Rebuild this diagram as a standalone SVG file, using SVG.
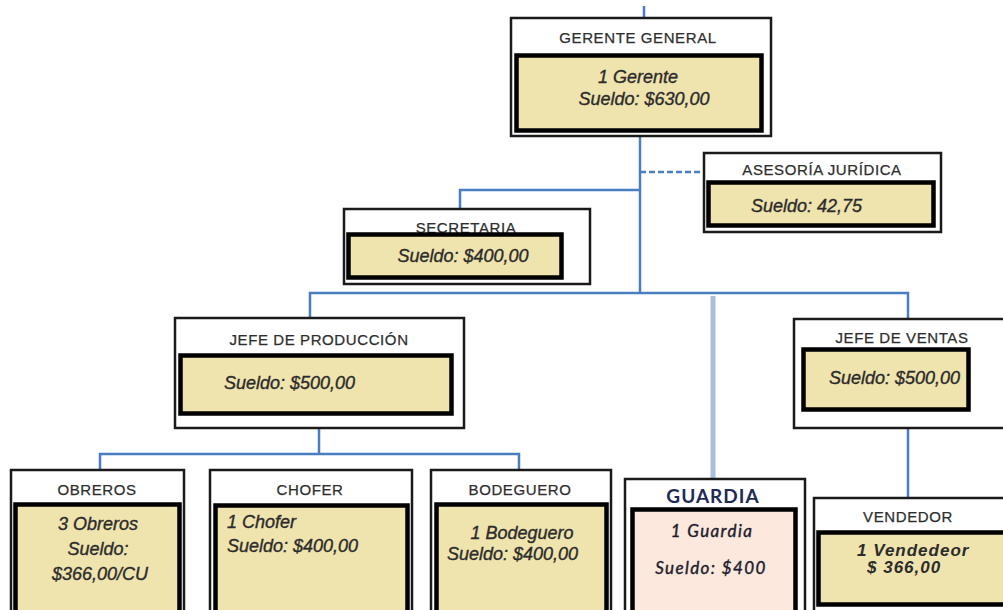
<svg xmlns="http://www.w3.org/2000/svg" width="1003" height="610" viewBox="0 0 1003 610">
  <style>
    .outer { fill: #ffffff; stroke: #1a1a1a; stroke-width: 2.5; }
    .inner { fill: #efe3ae; stroke: #000000; stroke-width: 4.5; }
    .inner-peach { fill: #fce8dc; stroke: #000000; stroke-width: 4.5; }
    .title { font-family: "Liberation Sans", Arial, sans-serif; font-size: 15px; fill: #2e2e2e; letter-spacing: 0.6px; text-anchor: middle; stroke: #2e2e2e; stroke-width: 0.25; }
    .body { font-family: "Liberation Sans", Arial, sans-serif; font-size: 18px; font-style: italic; fill: #2b2b2b; stroke: #2b2b2b; stroke-width: 0.35; }
    .mid { text-anchor: middle; }
    .g-title { font-family: Lato, "Open Sans", sans-serif; font-size: 19px; font-weight: bold; fill: #1f2a55; letter-spacing: 1px; text-anchor: middle; }
    .g-body { font-family: Lato, "Open Sans", sans-serif; font-size: 17px; font-style: italic; fill: #1c1c2e; stroke: #1c1c2e; stroke-width: 0.4; letter-spacing: 1.4px; text-anchor: middle; }
    .vend { font-size: 17px; font-weight: bold; letter-spacing: 1px; stroke-width: 0; }
    .link { fill: none; stroke: #4a7ebf; stroke-width: 2.5; }
    .dash { fill: none; stroke: #4a7ebf; stroke-width: 2.5; stroke-dasharray: 6 3; }
    .link-soft { fill: none; stroke: #a9c0dc; stroke-width: 5; }
  </style>

  <!-- connectors -->
  <g id="connectors">
    <line class="link" x1="644" y1="6" x2="644" y2="17"/>
    <line class="link" x1="640" y1="137" x2="640" y2="293"/>
    <polyline class="link" points="640,190 460,190 460,208"/>
    <line class="dash" x1="640" y1="172" x2="703" y2="172"/>
    <polyline class="link" points="310,317 310,293 908,293 908,318"/>
    <line class="link-soft" x1="713" y1="296" x2="713" y2="478"/>
    <line class="link" x1="319" y1="429" x2="319" y2="454"/>
    <polyline class="link" points="100,469 100,454 519,454 519,469"/>
    <line class="link" x1="908" y1="429" x2="908" y2="497"/>
  </g>

  <!-- Gerente general -->
  <g id="gerente-general">
    <rect class="outer" x="511" y="18" width="260" height="118"/>
    <text class="title" x="638" y="43">GERENTE GENERAL</text>
    <rect class="inner" x="516.5" y="55.5" width="245" height="75"/>
    <text class="body mid" x="638" y="83">1 Gerente</text>
    <text class="body mid" x="644" y="105">Sueldo: $630,00</text>
  </g>

  <!-- Secretaria -->
  <g id="secretaria">
    <rect class="outer" x="344" y="209" width="246" height="75"/>
    <text class="title" x="466" y="233">SECRETARIA</text>
    <rect class="inner" x="348.5" y="234.5" width="213" height="43"/>
    <text class="body mid" x="463" y="262">Sueldo: $400,00</text>
  </g>

  <!-- Asesoria juridica -->
  <g id="asesoria-juridica">
    <rect class="outer" x="704" y="153" width="237" height="79"/>
    <text class="title" x="822" y="175">ASESORÍA JURÍDICA</text>
    <rect class="inner" x="708.5" y="182.5" width="225" height="43"/>
    <text class="body" x="751" y="212">Sueldo: 42,75</text>
  </g>

  <!-- Jefe de produccion -->
  <g id="jefe-produccion">
    <rect class="outer" x="175" y="318" width="289" height="110"/>
    <text class="title" x="319" y="345">JEFE DE PRODUCCIÓN</text>
    <rect class="inner" x="180.5" y="355.5" width="271" height="58"/>
    <text class="body" x="224" y="389">Sueldo: $500,00</text>
  </g>

  <!-- Jefe de ventas -->
  <g id="jefe-ventas">
    <rect class="outer" x="794" y="319" width="215" height="109"/>
    <text class="title" x="902" y="343">JEFE DE VENTAS</text>
    <rect class="inner" x="803.5" y="349.5" width="165" height="60"/>
    <text class="body" x="829" y="384">Sueldo: $500,00</text>
  </g>

  <!-- Obreros -->
  <g id="obreros">
    <rect class="outer" x="11" y="470" width="173" height="145"/>
    <text class="title" x="97" y="495">OBREROS</text>
    <rect class="inner" x="15.5" y="504.5" width="164" height="110"/>
    <text class="body mid" x="98" y="530">3 Obreros</text>
    <text class="body mid" x="98" y="555">Sueldo:</text>
    <text class="body mid" x="100" y="580">$366,00/CU</text>
  </g>

  <!-- Chofer -->
  <g id="chofer">
    <rect class="outer" x="210" y="470" width="202" height="145"/>
    <text class="title" x="310" y="495">CHOFER</text>
    <rect class="inner" x="215.5" y="505.5" width="192" height="110"/>
    <text class="body" x="227" y="528">1 Chofer</text>
    <text class="body" x="227" y="552">Sueldo: $400,00</text>
  </g>

  <!-- Bodeguero -->
  <g id="bodeguero">
    <rect class="outer" x="431" y="470" width="180" height="145"/>
    <text class="title" x="520" y="495">BODEGUERO</text>
    <rect class="inner" x="436.5" y="504.5" width="170" height="110"/>
    <text class="body mid" x="522" y="539">1 Bodeguero</text>
    <text class="body" x="447" y="560">Sueldo: $400,00</text>
  </g>

  <!-- Guardia -->
  <g id="guardia">
    <rect class="outer" x="625" y="479" width="180" height="136"/>
    <text class="g-title" x="713" y="503">GUARDIA</text>
    <rect class="inner-peach" x="632.5" y="509.5" width="163" height="105"/>
    <text class="g-body" x="712" y="537">1 Guardia</text>
    <text class="g-body" x="711" y="574">Sueldo: $400</text>
  </g>

  <!-- Vendedor -->
  <g id="vendedor">
    <rect class="outer" x="814" y="498" width="195" height="117"/>
    <text class="title" x="908" y="522">VENDEDOR</text>
    <rect class="inner" x="818.5" y="532.5" width="190" height="72"/>
    <text class="body vend" x="857" y="556">1 Vendedeor</text>
    <text class="body vend" x="867" y="573">$ 366,00</text>
  </g>
</svg>
